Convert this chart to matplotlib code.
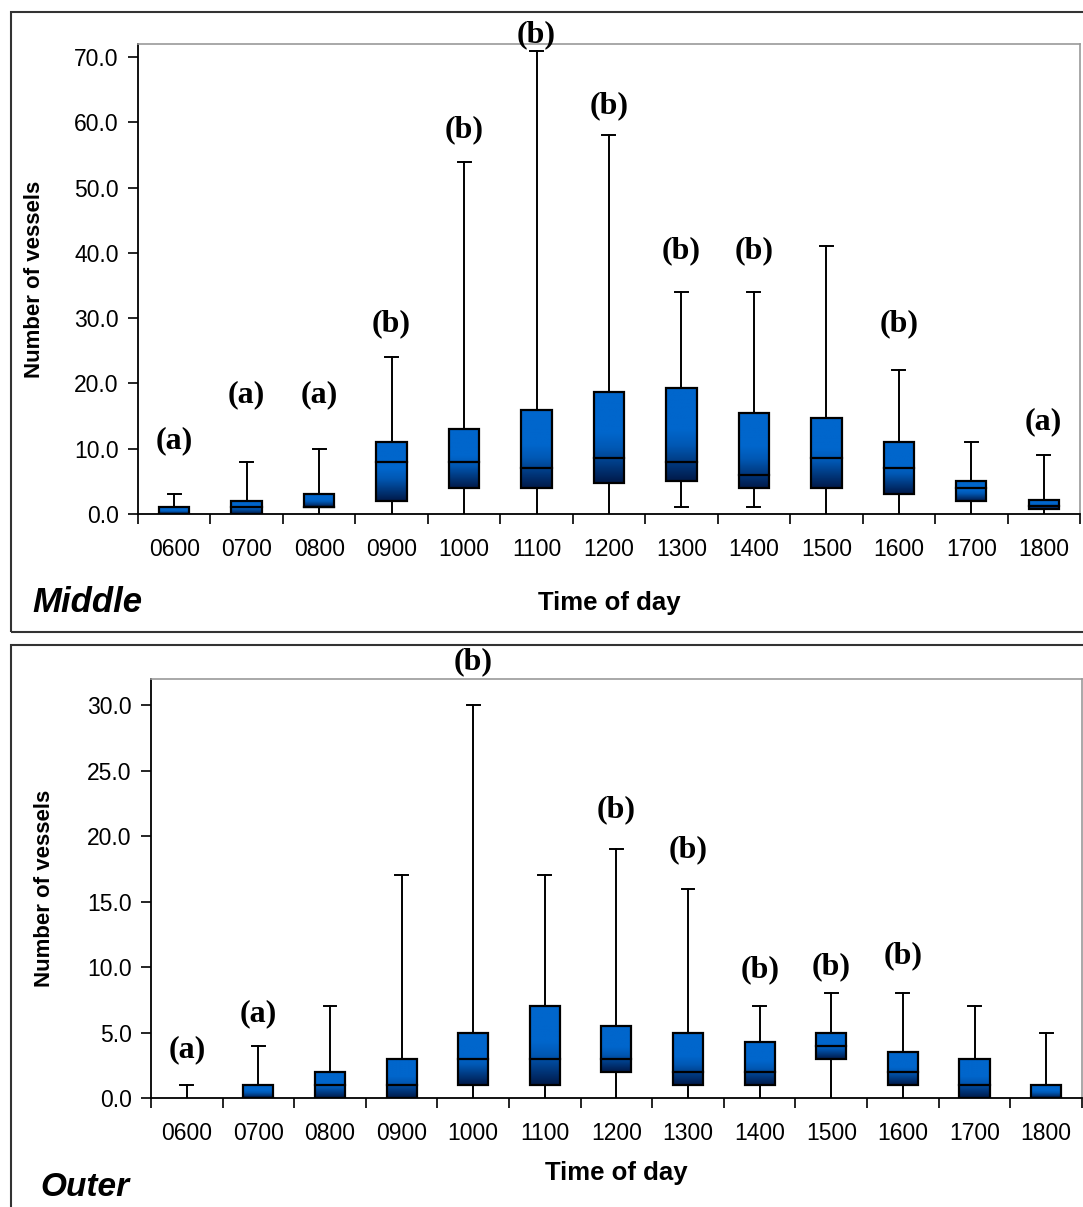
import numpy as np
import matplotlib
matplotlib.use("Agg")
import matplotlib.pyplot as plt
from matplotlib.patches import Rectangle
from matplotlib.colors import LinearSegmentedColormap

plt.rcParams['font.family'] = ['Liberation Sans', 'DejaVu Sans']

times = ["0600", "0700", "0800", "0900", "1000", "1100", "1200",
         "1300", "1400", "1500", "1600", "1700", "1800"]

# Middle site: whisker low, q1, median, q3, whisker high
mid_low = [0, 0, 0, 0, 0, 0, 0, 1, 1, 0, 0, 0, 0]
mid_q1 = [0, 0, 1, 2, 4, 4, 4.7, 5, 3.9, 3.9, 3, 2, 0.7]
mid_med = [0, 1, 1, 8, 8, 7, 8.5, 7.9, 5.9, 8.5, 7, 4, 1.2]
mid_q3 = [1, 2, 3, 11, 13, 16, 18.7, 19.3, 15.5, 14.7, 11, 5, 2.2]
mid_high = [3, 8, 10, 24, 54, 71, 58, 34, 34, 41, 22, 11, 9]
mid_letters = ["(a)", "(a)", "(a)", "(b)", "(b)", "(b)", "(b)",
               "(b)", "(b)", "", "(b)", "", "(a)"]
mid_letter_y = [11.2, 18.2, 18.2, 29.2, 58.8, 73.4, 62.5,
                40.3, 40.3, 0, 29.2, 0, 14.2]

# Outer site
out_low = [0, 0, 0, 0, 0, 0, 0, 0, 0, 0, 0, 0, 0]
out_q1 = [0, 0, 0, 0, 1, 1, 2, 1, 1, 3, 1, 0, 0]
out_med = [0, 0, 1, 1, 3, 3, 3, 2, 2, 4, 2, 1, 0]
out_q3 = [0, 1, 2, 3, 5, 7, 5.5, 5, 4.3, 5, 3.5, 3, 1]
out_high = [1, 4, 7, 17, 30, 17, 19, 16, 7, 8, 8, 7, 5]
out_letters = ["(a)", "(a)", "", "", "(b)", "", "(b)", "(b)",
               "(b)", "(b)", "(b)", "", ""]
out_letter_y = [3.7, 6.4, 0, 0, 33.3, 0, 22.0, 19.0, 9.8, 10.0, 10.9, 0, 0]

box_cmap = LinearSegmentedColormap.from_list(
    "boxfill", [(0.0, "#001a4a"), (0.38, "#0058b4"), (0.55, "#0066cc"), (1.0, "#0066cc")])
grad = np.linspace(0, 1, 100).reshape(-1, 1)

fig = plt.figure(figsize=(10.83, 12.07), dpi=100)

# panel frames
fig.add_artist(Rectangle((0.0102, 0.4764), 1.0, 0.5136, transform=fig.transFigure,
                         fill=False, edgecolor="#333333", linewidth=1.5))
fig.add_artist(Rectangle((0.0102, -0.1), 1.0, 0.5656, transform=fig.transFigure,
                         fill=False, edgecolor="#333333", linewidth=1.5))


def draw_panel(ax, low, q1, med, q3, high, letters, letter_y, ymax, ystep, xlabelpad):
    x = np.arange(len(times))
    w = 0.42
    cap = 0.18
    for i in x:
        ax.plot([i, i], [q3[i], high[i]], color="black", lw=1.4, zorder=1)
        ax.plot([i, i], [low[i], q1[i]], color="black", lw=1.4, zorder=1)
        ax.plot([i - cap / 2, i + cap / 2], [high[i], high[i]], color="black", lw=1.4, zorder=1)
        if low[i] > 0:
            ax.plot([i - cap / 2, i + cap / 2], [low[i], low[i]], color="black", lw=1.4, zorder=1)
        if q3[i] > q1[i]:
            ax.imshow(grad, cmap=box_cmap, origin="lower", aspect="auto",
                      extent=[i - w / 2, i + w / 2, q1[i], q3[i]], zorder=2)
            ax.add_patch(Rectangle((i - w / 2, q1[i]), w, q3[i] - q1[i], fill=False,
                                   edgecolor="black", lw=1.6, zorder=3))
            ax.plot([i - w / 2, i + w / 2], [med[i], med[i]], color="black", lw=1.6, zorder=3)
        if letters[i]:
            ax.text(i, letter_y[i], letters[i], ha="center", va="center",
                    family=["Liberation Serif"], fontweight="bold", fontsize=23,
                    clip_on=False, zorder=4)

    ax.set_xlim(-0.5, len(times) - 0.5)
    ax.set_ylim(0, ymax)
    ax.set_xticks(x)
    ax.set_xticklabels(times, fontsize=16.5)
    ax.set_xticks(np.arange(-0.5, len(times), 1.0), minor=True)
    ax.tick_params(axis="x", which="major", length=0, pad=17)
    ax.tick_params(axis="x", which="minor", length=7, width=1.2, direction="out")
    yt = np.arange(0, ymax, ystep)
    ax.set_yticks(yt)
    ax.set_yticklabels([f"{v:.1f}" for v in yt], fontsize=16.5)
    ax.tick_params(axis="y", length=7, width=1.2, pad=7)
    for s in ["top", "right"]:
        ax.spines[s].set_color("#999999")
        ax.spines[s].set_linewidth(1.2)
    for s in ["left", "bottom"]:
        ax.spines[s].set_linewidth(1.3)
    ax.set_xlabel("Time of day", fontsize=18.5, fontweight="bold", labelpad=xlabelpad)
    ax.set_ylabel("Number of vessels", fontsize=16, fontweight="bold")


ax1 = fig.add_axes([0.1274, 0.5742, 0.8698, 0.3893])
draw_panel(ax1, mid_low, mid_q1, mid_med, mid_q3, mid_high,
           mid_letters, mid_letter_y, 72, 10, 22)
ax1.yaxis.set_label_coords(-0.099, 0.5)

ax2 = fig.add_axes([0.1394, 0.0903, 0.8596, 0.3471])
draw_panel(ax2, out_low, out_q1, out_med, out_q3, out_high,
           out_letters, out_letter_y, 32, 5, 12)
ax2.yaxis.set_label_coords(-0.103, 0.5)

fig.text(0.0295, 0.493, "Middle", fontsize=25, fontweight="bold", style="italic")
fig.text(0.037, 0.0095, "Outer", fontsize=24, fontweight="bold", style="italic")

fig.savefig("out.png", dpi=100)
